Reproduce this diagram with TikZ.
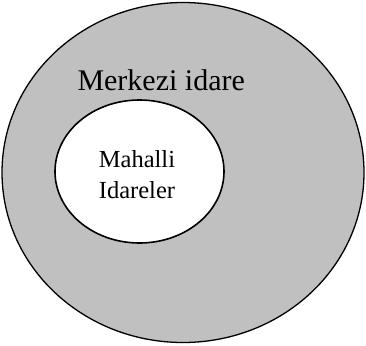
\documentclass[tikz,border=0pt]{standalone}
\usepackage{fontspec}
\setmainfont{Liberation Serif}
\definecolor{shade}{HTML}{C0C0C0}
\tikzset{
  outerset/.style={draw=black, line width=1.3pt, fill=shade},
  innerset/.style={draw=black, line width=1.6pt, fill=white},
}
\begin{document}
\begin{tikzpicture}[x=1pt,y=-1pt]
\useasboundingbox (0,0) rectangle (366,345);
\fill[white] (0,0) rectangle (366,345);
\path[outerset] (183,172.5) ellipse [x radius=181, y radius=170];
\path[innerset] (139.5,171.5) ellipse [x radius=84.5, y radius=71.5];
\node[anchor=base west, inner sep=0pt, font=\fontsize{30}{35}\selectfont] (merkez) at (77.3,90.7) {Merkezi idare};
\node[anchor=base, inner sep=0pt, align=center, font=\fontsize{24.5}{30.5}\selectfont] (mahalli) at (137,198.3) {Mahalli\\Idareler};
\end{tikzpicture}
\end{document}
